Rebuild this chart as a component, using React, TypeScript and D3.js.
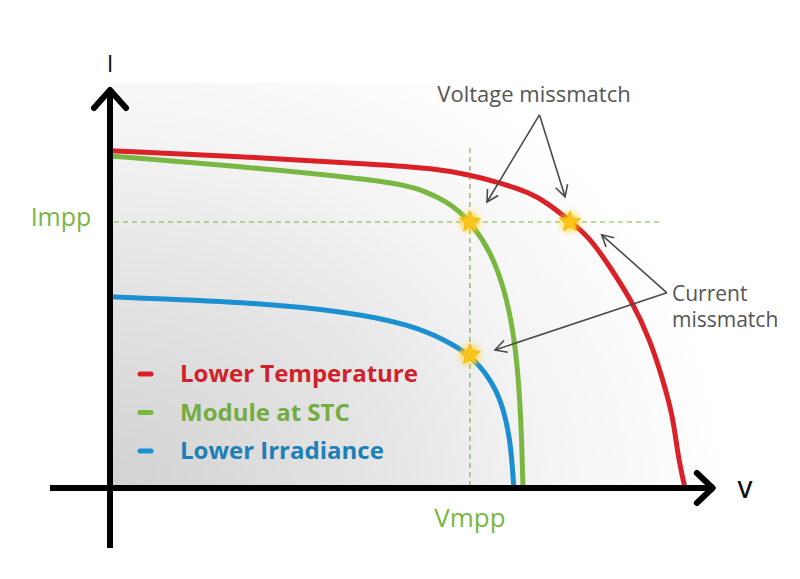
import React from "react";
import * as d3 from "d3";

type Pt = [number, number]; // [V, I]

// curves (V, I)
const lowerTemp: Pt[] = [
  [0, 8.43], [11.48, 8.28], [22.13, 8.08], [26.23, 8.0], [29.51, 7.83], [31.97, 7.63],
  [34.43, 7.38], [35.82, 7.13], [37.7, 6.68], [39.34, 6.25], [40.98, 5.53], [42.87, 4.63],
  [44.26, 3.7], [45.33, 2.7], [46.15, 1.78], [46.56, 0.78], [47.13, 0],
];
const moduleStc: Pt[] = [
  [0, 8.3], [11.48, 8.02], [20.5, 7.74], [23.8, 7.6], [25.9, 7.42], [27.6, 7.15], [28.6, 6.92],
  [29.51, 6.65], [31.15, 5.95], [32.38, 4.95], [33.2, 3.7], [33.61, 2.2], [33.77, 0.95], [33.85, 0],
];
const lowerIrr: Pt[] = [
  [0, 4.78], [11.3, 4.65], [19.7, 4.4], [24.6, 4.08], [27.5, 3.7], [29.5, 3.33],
  [31.15, 2.75], [32.2, 2.08], [32.8, 1.2], [33.0, 0.45], [33.1, 0],
];

const series = [
  { name: "Lower Temperature", color: "#da2128", text: "#d0222a", pts: lowerTemp },
  { name: "Module at STC", color: "#7ab642", text: "#74ad3f", pts: moduleStc },
  { name: "Lower Irradiance", color: "#1b8fcf", text: "#1d7fb8", pts: lowerIrr },
];

const vmpp = 29.5;
const impp = 6.65;
const stars: Pt[] = [[29.5, 6.65], [37.7, 6.65], [29.5, 3.33]];

// annotation arrows: [from, to]
const voltageArrows: [Pt, Pt][] = [
  [[35.2, 9.33], [30.9, 7.15]],
  [[35.2, 9.33], [37.3, 7.28]],
];
const currentArrows: [Pt, Pt][] = [
  [[45.65, 4.88], [40.3, 6.33]],
  [[45.65, 4.88], [31.56, 3.45]],
];

const W = 800;
const H = 579;
const FONT = "'Open Sans', 'Noto Sans', sans-serif";

function starPath(cx: number, cy: number, R: number, r: number) {
  const pts: string[] = [];
  for (let i = 0; i < 10; i++) {
    const a = -Math.PI / 2 + (i * Math.PI) / 5;
    const rad = i % 2 === 0 ? R : r;
    pts.push(`${cx + rad * Math.cos(a)},${cy + rad * Math.sin(a)}`);
  }
  return "M" + pts.join("L") + "Z";
}

function arrowHead(x1: number, y1: number, x2: number, y2: number, len: number, spread: number) {
  const a = Math.atan2(y2 - y1, x2 - x1);
  const p1 = [x2 - len * Math.cos(a - spread), y2 - len * Math.sin(a - spread)];
  const p2 = [x2 - len * Math.cos(a + spread), y2 - len * Math.sin(a + spread)];
  return `M${p1[0]},${p1[1]}L${x2},${y2}L${p2[0]},${p2[1]}`;
}

const App: React.FC = () => {
  const x = d3.scaleLinear().domain([0, 50]).range([110, 720]);
  const y = d3.scaleLinear().domain([0, 10]).range([488, 88]);

  const line = d3
    .line<Pt>()
    .x((d) => x(d[0]))
    .y((d) => y(d[1]))
    .curve(d3.curveBasis);

  const ax0 = x(0);
  const ay0 = y(0);

  return (
    <svg width={W} height={H} style={{ position: "absolute", left: 0, top: 0 }}>
      <defs>
        <radialGradient
          id="bg"
          gradientUnits="userSpaceOnUse"
          cx={ax0}
          cy={ay0}
          r={620}
          gradientTransform={`translate(0,${ay0 * 0.2}) scale(1,0.8)`}
        >
          <stop offset="0%" stopColor="#d2d2d2" />
          <stop offset="40%" stopColor="#e3e3e3" />
          <stop offset="70%" stopColor="#f3f3f3" />
          <stop offset="100%" stopColor="#ffffff" />
        </radialGradient>
        <filter id="glow" x="-1" y="-1" width="3" height="3">
          <feGaussianBlur stdDeviation="3" />
        </filter>
      </defs>
      <rect x={0} y={0} width={W} height={H} fill="#ffffff" />
      <rect x={ax0} y={83} width={x(50) - ax0} height={ay0 - 83} fill="url(#bg)" />

      {/* mpp guides */}
      <line x1={x(0) + 4} x2={x(45)} y1={y(impp)} y2={y(impp)} stroke="#7ab642" strokeWidth={1.2} strokeDasharray="5,4" />
      <line x1={x(vmpp)} x2={x(vmpp)} y1={y(8.5)} y2={ay0} stroke="#7ab642" strokeWidth={1.2} strokeDasharray="5,4" />

      {/* curves */}
      {series.map((s) => (
        <path key={s.name} d={line(s.pts) ?? ""} fill="none" stroke={s.color} strokeWidth={5} />
      ))}

      {/* axes */}
      <line x1={ax0} x2={ax0} y1={548} y2={y(9.93)} stroke="#000" strokeWidth={6} />
      <path d={`M${ax0 - 16},${y(9.5)}L${ax0},${y(9.95)}L${ax0 + 16},${y(9.5)}`} fill="none" stroke="#000" strokeWidth={6} strokeLinecap="round" strokeLinejoin="round" />
      <line x1={50} x2={x(49.3)} y1={ay0} y2={ay0} stroke="#000" strokeWidth={6} />
      <path d={`M${x(48.1)},${ay0 - 15}L${x(49.4)},${ay0}L${x(48.1)},${ay0 + 15}`} fill="none" stroke="#000" strokeWidth={6} strokeLinecap="round" strokeLinejoin="round" />
      <text x={ax0} y={72} textAnchor="middle" fontFamily={FONT} fontSize={24} fill="#111">I</text>
      <text x={745} y={498} textAnchor="middle" fontFamily={FONT} fontSize={24} fontWeight={600} fill="#111">V</text>

      {/* mpp labels */}
      <text x={61} y={226} textAnchor="middle" fontFamily={FONT} fontSize={25} fill="#7ab642">Impp</text>
      <text x={x(vmpp)} y={527} textAnchor="middle" fontFamily={FONT} fontSize={26} fill="#7ab642">Vmpp</text>

      {/* stars */}
      {stars.map((p, i) => (
        <g key={i}>
          <circle cx={x(p[0])} cy={y(p[1])} r={10} fill="#ffd21a" opacity={0.7} filter="url(#glow)" />
          <path d={starPath(x(p[0]), y(p[1]), 11, 5)} fill="#f9c51c" stroke="#f4b400" strokeWidth={0.8} />
        </g>
      ))}

      {/* annotations */}
      {[...voltageArrows, ...currentArrows].map(([a, b], i) => {
        const x1 = x(a[0]), y1 = y(a[1]), x2 = x(b[0]), y2 = y(b[1]);
        return (
          <g key={i} stroke="#4a4a4a" strokeWidth={1.6} fill="none">
            <line x1={x1} y1={y1} x2={x2} y2={y2} />
            <path d={arrowHead(x1, y1, x2, y2, 13, 0.5)} />
          </g>
        );
      })}
      <text x={534} y={102} textAnchor="middle" fontFamily={FONT} fontSize={22} fill="#555">Voltage missmatch</text>
      <text x={672} y={301} fontFamily={FONT} fontSize={21} fill="#555">Current</text>
      <text x={672} y={327} fontFamily={FONT} fontSize={21} fill="#555">missmatch</text>

      {/* legend */}
      {series.map((s, i) => (
        <g key={s.name}>
          <line x1={140} x2={151} y1={374 + i * 38.5} y2={374 + i * 38.5} stroke={s.color} strokeWidth={5} strokeLinecap="round" />
          <text x={180} y={382 + i * 38.5} fontFamily={FONT} fontSize={24} fontWeight={700} fill={s.text}>{s.name}</text>
        </g>
      ))}
    </svg>
  );
};

export default App;
